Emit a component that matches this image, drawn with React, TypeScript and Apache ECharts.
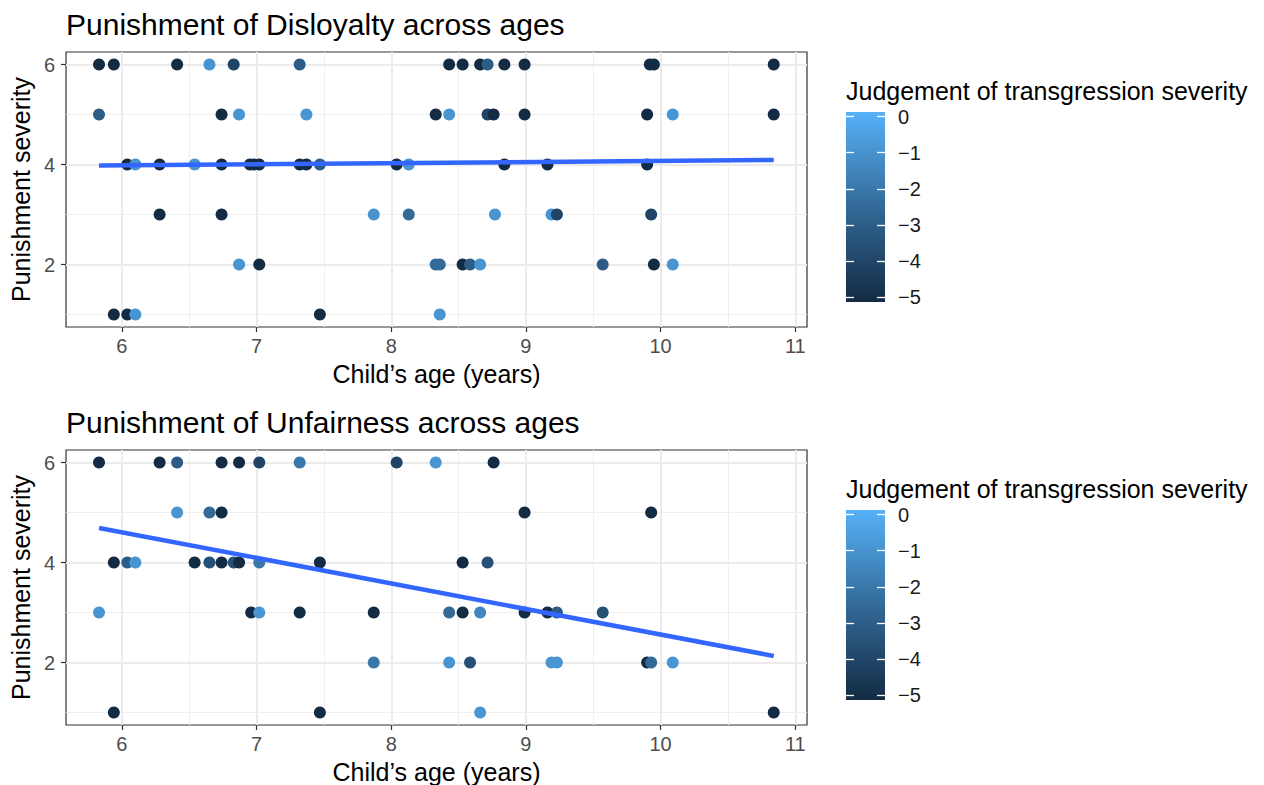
import React, { useEffect, useRef } from 'react';
import * as echarts from 'echarts';

// Each point: [child's age (years), punishment severity, judgement of transgression severity]
const disloyaltyPoints: number[][] = [
  [5.83, 6, -5], [5.94, 6, -5], [6.41, 6, -5], [6.65, 6, -1], [6.83, 6, -4], [7.32, 6, -3],
  [8.43, 6, -5], [8.53, 6, -5], [8.66, 6, -5], [8.715, 6, -3], [8.84, 6, -5], [8.99, 6, -5],
  [9.92, 6, -5], [9.95, 6, -5], [10.84, 6, -5],
  [5.83, 5, -3], [6.74, 5, -5], [6.87, 5, -1], [7.37, 5, -1], [8.33, 5, -5], [8.43, 5, -1],
  [8.715, 5, -4], [8.76, 5, -5], [8.99, 5, -5], [9.9, 5, -5], [10.09, 5, -1], [10.84, 5, -5],
  [6.04, 4, -5], [6.1, 4, -1], [6.28, 4, -5], [6.54, 4, -1], [6.74, 4, -5], [6.95, 4, -5],
  [6.98, 4, -5], [7.02, 4, -5], [7.32, 4, -5], [7.37, 4, -5], [7.47, 4, -3], [8.04, 4, -5],
  [8.13, 4, -1], [8.84, 4, -5], [9.16, 4, -5], [9.9, 4, -5],
  [6.28, 3, -5], [6.74, 3, -5], [7.87, 3, -1], [8.13, 3, -2.5], [8.77, 3, -1], [9.19, 3, -1],
  [9.23, 3, -4], [9.93, 3, -4],
  [6.87, 2, -1], [7.02, 2, -5], [8.33, 2, -2.5], [8.36, 2, -2.5], [8.53, 2, -5], [8.585, 2, -3],
  [8.66, 2, -1], [9.57, 2, -3], [9.95, 2, -5], [10.09, 2, -1],
  [5.94, 1, -5], [6.04, 1, -5], [6.1, 1, -1], [7.47, 1, -5], [8.36, 1, -1],
];

const unfairnessPoints: number[][] = [
  [5.83, 6, -5], [6.28, 6, -5], [6.41, 6, -3], [6.74, 6, -5], [6.87, 6, -5], [7.02, 6, -4],
  [7.32, 6, -2], [8.04, 6, -4], [8.33, 6, -1], [8.76, 6, -5],
  [6.41, 5, -1], [6.65, 5, -2.5], [6.74, 5, -5], [8.99, 5, -5], [9.93, 5, -5],
  [5.94, 4, -5], [6.04, 4, -3], [6.1, 4, -1], [6.54, 4, -5], [6.65, 4, -3.5], [6.74, 4, -5],
  [6.83, 4, -3.5], [6.87, 4, -5], [7.02, 4, -2], [7.47, 4, -5], [8.53, 4, -5], [8.715, 4, -3.5],
  [5.83, 3, -1], [6.96, 3, -5], [7.02, 3, -1], [7.32, 3, -5], [7.87, 3, -5], [8.43, 3, -2.5],
  [8.53, 3, -5], [8.66, 3, -1.5], [8.99, 3, -5], [9.16, 3, -5], [9.23, 3, -3], [9.57, 3, -3.5],
  [7.87, 2, -2], [8.43, 2, -1], [8.585, 2, -3.5], [9.19, 2, -1], [9.23, 2, -1], [9.9, 2, -5],
  [9.93, 2, -2.5], [10.09, 2, -1],
  [5.94, 1, -5], [7.47, 1, -5], [8.66, 1, -1], [10.84, 1, -5],
];

// Linear fits (end points over the observed age range)
const disloyaltyFit: number[][] = [[5.83, 3.98], [10.84, 4.09]];
const unfairnessFit: number[][] = [[5.83, 4.69], [10.84, 2.13]];

const ageTicks = [6, 7, 8, 9, 10, 11];
const ageMinorTicks = [6.5, 7.5, 8.5, 9.5, 10.5];
const severityTicks = [2, 4, 6];
const severityMinorTicks = [1, 3, 5];
const judgementTicks = [-5, -4, -3, -2, -1, 0];

const panelTitles = ['Punishment of Disloyalty across ages', 'Punishment of Unfairness across ages'];
const xTitle = 'Child\u2019s age (years)';
const yTitle = 'Punishment severity';
const legendTitle = 'Judgement of transgression severity';

const FONT = '"Liberation Sans", Arial, Helvetica, sans-serif';
const LOW = '#132B43';
const MID = '#336A98';
const HIGH = '#56B1F7';

const PANEL_TOPS = [52, 450];
const PANEL_LEFT = 66;
const PANEL_W = 741;
const PANEL_H = 275;

const gridLines = [
  ...ageTicks.map((v) => ({ xAxis: v, lineStyle: { color: '#EBEBEB', width: 2, type: 'solid' } })),
  ...ageMinorTicks.map((v) => ({ xAxis: v, lineStyle: { color: '#EFEFEF', width: 1.1, type: 'solid' } })),
  ...severityTicks.map((v) => ({ yAxis: v, lineStyle: { color: '#EBEBEB', width: 2, type: 'solid' } })),
  ...severityMinorTicks.map((v) => ({ yAxis: v, lineStyle: { color: '#EFEFEF', width: 1.1, type: 'solid' } })),
];

const minus = (v: number) => (v < 0 ? '\u2212' + Math.abs(v) : String(v));

function buildOption() {
  const grids: any[] = [];
  const xAxes: any[] = [];
  const yAxes: any[] = [];
  const series: any[] = [];
  const titles: any[] = [];

  const pointSets = [disloyaltyPoints, unfairnessPoints];
  const fits = [disloyaltyFit, unfairnessFit];

  PANEL_TOPS.forEach((top, i) => {
    grids.push({
      left: PANEL_LEFT, top, width: PANEL_W, height: PANEL_H,
      show: true, borderColor: '#333333', borderWidth: 1.2, backgroundColor: '#FFFFFF',
    });
    xAxes.push({
      gridIndex: i, type: 'value', min: 5.585, max: 11.087,
      axisLine: { show: false, onZero: false },
      axisTick: { show: true, customValues: ageTicks, length: 5, lineStyle: { color: '#333333', width: 1.2 } },
      axisLabel: { customValues: ageTicks, color: '#4D4D4D', fontSize: 20, margin: 9, fontFamily: FONT },
      splitLine: { show: false },
      name: xTitle, nameLocation: 'middle', nameGap: 34,
      nameTextStyle: { color: '#000000', fontSize: 25, fontFamily: FONT },
    });
    yAxes.push({
      gridIndex: i, type: 'value', min: 0.75, max: 6.25,
      axisLine: { show: false, onZero: false },
      axisTick: { show: true, customValues: severityTicks, length: 5, lineStyle: { color: '#333333', width: 1.2 } },
      axisLabel: { customValues: severityTicks, color: '#4D4D4D', fontSize: 20, margin: 11, fontFamily: FONT },
      splitLine: { show: false },
      name: yTitle, nameLocation: 'middle', nameGap: 30,
      nameTextStyle: { color: '#000000', fontSize: 25, fontFamily: FONT },
    });
    titles.push({
      text: panelTitles[i], left: PANEL_LEFT, top: top - 43, padding: 0,
      textStyle: { fontSize: 30, fontWeight: 'normal', color: '#000000', fontFamily: FONT },
    });
  });

  // Scatter + fitted line for each panel
  pointSets.forEach((pts, i) => {
    series.push({
      type: 'scatter', xAxisIndex: i, yAxisIndex: i, data: pts,
      symbolSize: 12, z: 3, silent: true,
      itemStyle: { opacity: 1 },
      markLine: { silent: true, symbol: 'none', z: 1, label: { show: false }, data: gridLines },
    });
  });
  fits.forEach((fit, i) => {
    series.push({
      type: 'line', xAxisIndex: i, yAxisIndex: i, data: fit,
      showSymbol: false, symbol: 'none', z: 4, silent: true,
      lineStyle: { color: '#3366FF', width: 4.5 },
    });
  });

  // Colour bar legends, one beside each panel
  PANEL_TOPS.forEach((top, i) => {
    const gi = 2 + i;
    const barTop = top + 60;
    grids.push({
      left: 846, top: barTop, width: 39, height: 190, show: true, borderWidth: 0,
      backgroundColor: new echarts.graphic.LinearGradient(0, 0, 0, 1, [
        { offset: 0, color: HIGH }, { offset: 0.5, color: MID }, { offset: 1, color: LOW },
      ]),
    });
    xAxes.push({ gridIndex: gi, type: 'value', min: 0, max: 1, show: false });
    yAxes.push({
      gridIndex: gi, type: 'value', position: 'left', min: -5.125, max: 0.125,
      axisLine: { show: false },
      axisTick: { show: true, inside: true, length: 8, customValues: judgementTicks, lineStyle: { color: '#FFFFFF', width: 1.3 } },
      axisLabel: { show: false },
      splitLine: { show: false },
    });
    yAxes.push({
      gridIndex: gi, type: 'value', position: 'right', min: -5.125, max: 0.125,
      axisLine: { show: false },
      axisTick: { show: true, inside: true, length: 8, customValues: judgementTicks, lineStyle: { color: '#FFFFFF', width: 1.3 } },
      axisLabel: { customValues: judgementTicks, formatter: minus, color: '#1A1A1A', fontSize: 20, margin: 13, fontFamily: FONT },
      splitLine: { show: false },
    });
    titles.push({
      text: legendTitle, left: 846, top: top + 26, padding: 0,
      textStyle: { fontSize: 25, fontWeight: 'normal', color: '#000000', fontFamily: FONT },
    });
  });

  return {
    animation: false,
    backgroundColor: '#FFFFFF',
    textStyle: { fontFamily: FONT },
    title: titles,
    grid: grids,
    xAxis: xAxes,
    yAxis: yAxes,
    visualMap: {
      show: false, type: 'continuous', min: -5, max: 0, dimension: 2, seriesIndex: [0, 1],
      inRange: { color: [LOW, MID, HIGH], opacity: 1 },
    },
    series,
  };
}

export default function App() {
  const ref = useRef<HTMLDivElement>(null);
  useEffect(() => {
    if (!ref.current) return;
    const chart = echarts.init(ref.current, null, { renderer: 'svg' });
    chart.setOption(buildOption() as any);
    return () => chart.dispose();
  }, []);
  return (
    <div
      ref={ref}
      style={{ position: 'absolute', left: 0, top: 0, width: 1264, height: 785 }}
    />
  );
}
